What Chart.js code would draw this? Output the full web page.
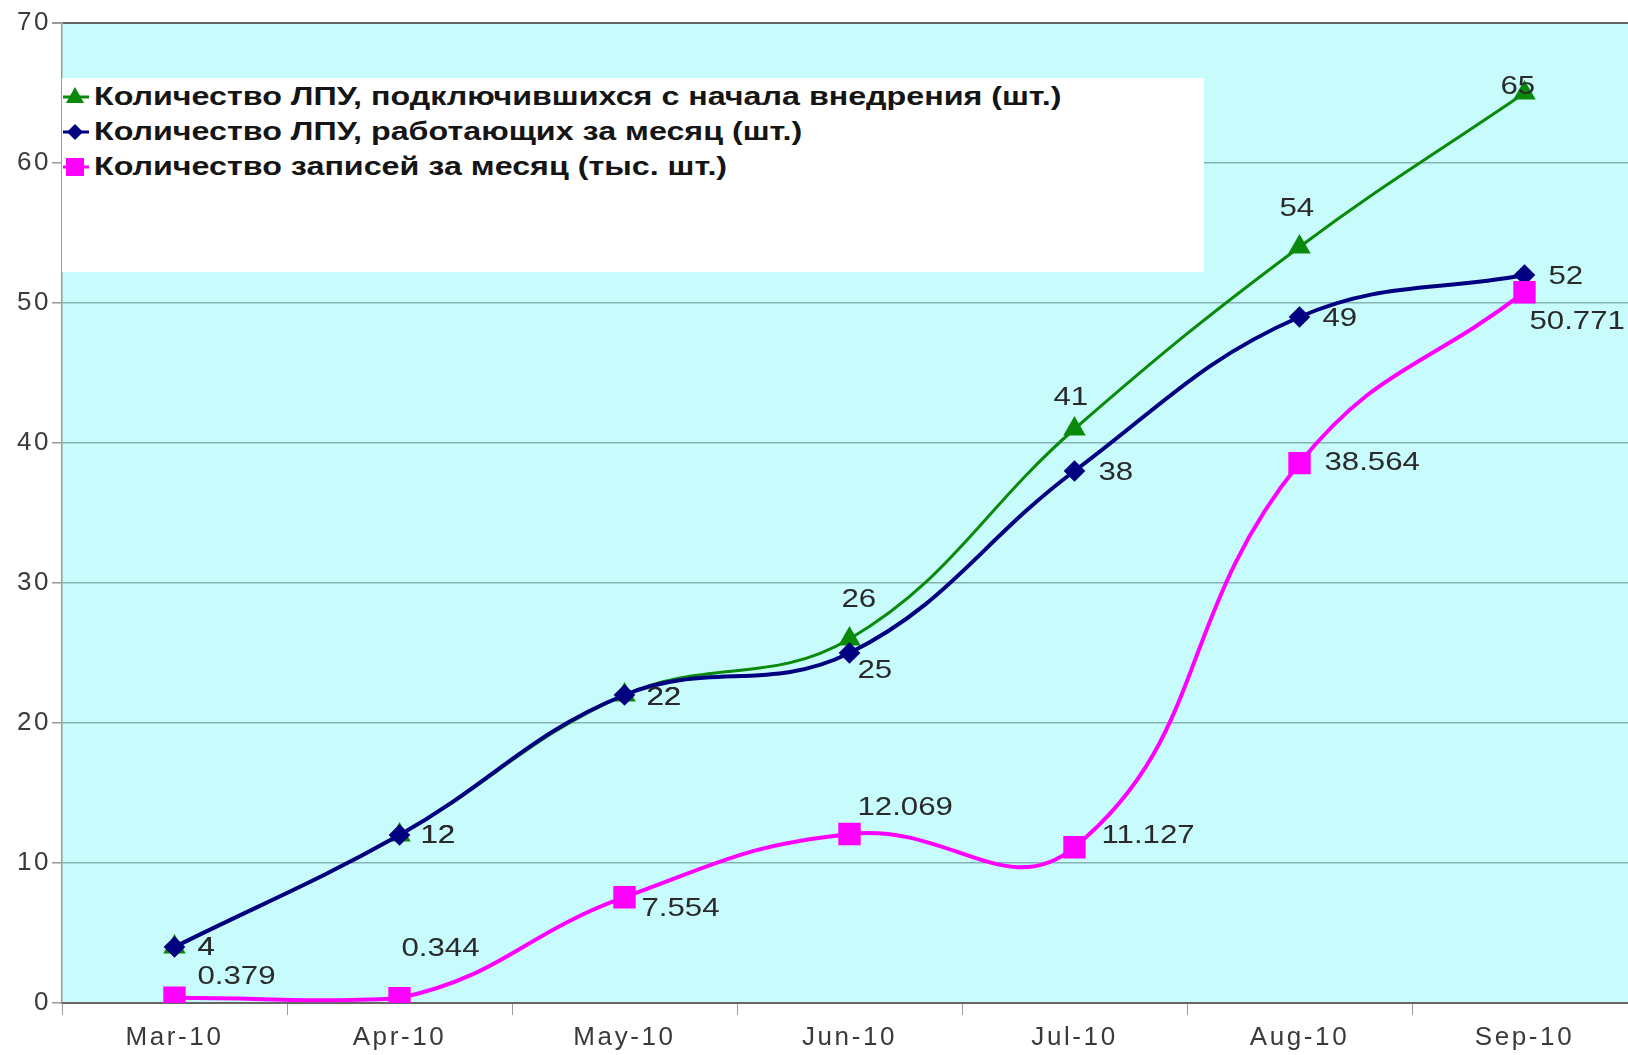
<!DOCTYPE html>
<html>
<head>
<meta charset="utf-8">
<script src="https://cdn.jsdelivr.net/npm/chart.js@4.4.1/dist/chart.umd.min.js"></script>
<style>
body { margin: 0; overflow: hidden; background: #fff; }
#wrap { position: relative; width: 1637px; height: 1055px; }
#legend {
    position: absolute; left: 62px; top: 78px; width: 1142px; height: 194px;
    background: #fff;
    font: bold 26px "Liberation Sans", Arial, sans-serif; color: #151515;
}
.row { position: absolute; left: 0; width: 1100px; height: 35px; line-height: 35px; white-space: nowrap; }
.row svg { position: absolute; left: 0; top: 0; }
.row span { position: absolute; left: 32px; transform: scaleX(1.24); transform-origin: left center; }
</style>
</head>
<body>
<div id="wrap">
    <canvas id="graph" width="1637" height="1055"></canvas>
    <div id="legend">
        <div class="row" style="top:1px">
            <svg width="30" height="35"><line x1="1" y1="18" x2="27" y2="18" stroke="#0a8a0a" stroke-width="3"/><polygon points="13,8 22,24 4,24" fill="#0a8a0a"/></svg>
            <span>Количество ЛПУ, подключившихся с начала внедрения (шт.)</span>
        </div>
        <div class="row" style="top:36px">
            <svg width="30" height="35"><line x1="1" y1="18" x2="27" y2="18" stroke="#000080" stroke-width="3"/><polygon points="13,10 21,18 13,26 5,18" fill="#000080"/></svg>
            <span>Количество ЛПУ, работающих за месяц (шт.)</span>
        </div>
        <div class="row" style="top:71px">
            <svg width="30" height="35"><line x1="1" y1="18" x2="27" y2="18" stroke="#ff00ff" stroke-width="3"/><rect x="4" y="9" width="18" height="18" fill="#ff00ff"/></svg>
            <span>Количество записей за месяц (тыс. шт.)</span>
        </div>
    </div>
</div>
<script>
// categories and values
const months = ['Mar-10', 'Apr-10', 'May-10', 'Jun-10', 'Jul-10', 'Aug-10', 'Sep-10'];
const connectedTotal = [4, 12, 22, 26, 41, 54, 65];
const workingMonth = [4, 12, 22, 25, 38, 49, 52];
const recordsMonth = [0.379, 0.344, 7.554, 12.069, 11.127, 38.564, 50.771];
const yTicks = [0, 10, 20, 30, 40, 50, 60, 70];

// where each value label sits relative to its point (dx, dy of the text's left-middle)
const greenLabelOffsets = [[23, 1], [21, 1], [22, 3], [-8, -39], [-21, -31], [-20, -38], [-24, -6]];
const blueLabelOffsets = [[23, 1], [21, 1], [22, 3], [8, 18], [24, 2], [23, 2], [24, 2]];
const pinkLabelOffsets = [[23, -21], [2, -49], [17, 12], [8, -26], [27, -11], [25, 0], [5, 30]];

const fontFamily = '"Liberation Sans", Arial, sans-serif';

const plotBackground = {
    id: 'plotBackground',
    beforeDraw(chart) {
        const a = chart.chartArea;
        const ctx = chart.ctx;
        ctx.save();
        ctx.fillStyle = '#c8fbfb';
        ctx.fillRect(a.left, a.top, a.right - a.left, a.bottom - a.top);
        ctx.restore();
        // the picture's text is wider than Arial at the same height
        ctx.letterSpacing = '2.6px';
    }
};

const valueLabels = {
    id: 'valueLabels',
    afterDatasetsDraw(chart) {
        const ctx = chart.ctx;
        ctx.save();
        ctx.letterSpacing = '0px';
        ctx.font = '26px ' + fontFamily;
        ctx.fillStyle = '#2a2a2a';
        ctx.textAlign = 'left';
        ctx.textBaseline = 'middle';
        chart.data.datasets.forEach((ds, i) => {
            const meta = chart.getDatasetMeta(i);
            const offsets = ds.labelOffsets;
            meta.data.forEach((pt, j) => {
                ctx.save();
                ctx.translate(pt.x + offsets[j][0], pt.y + offsets[j][1]);
                ctx.scale(1.2, 1);
                ctx.fillText(String(ds.data[j]), 0, 0);
                ctx.restore();
            });
        });
        ctx.restore();
    }
};

const ctx = document.getElementById('graph').getContext('2d');

const chartx = new Chart(ctx, {
    type: 'line',
    data: {
        labels: months,
        datasets: [{
            label: 'Количество ЛПУ, подключившихся с начала внедрения (шт.)',
            data: connectedTotal,
            labelOffsets: greenLabelOffsets,
            borderColor: '#0a8a0a',
            backgroundColor: '#0a8a0a',
            borderWidth: 3,
            pointStyle: 'triangle',
            pointRadius: 10,
            tension: 0.4,
            order: 3,
        }, {
            label: 'Количество ЛПУ, работающих за месяц (шт.)',
            data: workingMonth,
            labelOffsets: blueLabelOffsets,
            borderColor: '#000080',
            backgroundColor: '#000080',
            borderWidth: 4,
            pointStyle: 'rectRot',
            pointRadius: 8,
            tension: 0.4,
            order: 2,
        }, {
            label: 'Количество записей за месяц (тыс. шт.)',
            data: recordsMonth,
            labelOffsets: pinkLabelOffsets,
            borderColor: '#ff00ff',
            backgroundColor: '#ff00ff',
            borderWidth: 4,
            pointStyle: 'rect',
            pointRadius: 13,
            tension: 0.45,
            order: 1,
        }],
    },
    options: {
        responsive: false,
        animation: false,
        layout: { autoPadding: false, padding: { top: 23, left: 0, right: 0, bottom: 0 } },
        plugins: {
            legend: { display: false },
            tooltip: { enabled: false },
        },
        scales: {
            x: {
                offset: true,
                grid: {
                    offset: true,
                    drawOnChartArea: false,
                    tickLength: 12,
                    tickColor: '#9a9a9a',
                },
                border: { color: '#666', width: 2 },
                ticks: {
                    color: '#3a3a3a',
                    padding: 7,
                    font: { family: fontFamily, size: 26 },
                },
                afterFit(scale) { scale.height = 52; },
            },
            y: {
                min: 0,
                max: 70,
                afterBuildTicks(scale) { scale.ticks = yTicks.map(v => ({ value: v })); },
                grid: {
                    color: c => c.tick && c.tick.value === 70 ? '#666' : '#86b4b4',
                    lineWidth: c => c.tick && c.tick.value === 70 ? 2 : 1.5,
                    tickLength: 10,
                    tickColor: '#9a9a9a',
                },
                border: { color: '#999', width: 1.5 },
                ticks: {
                    color: '#3a3a3a',
                    padding: 1,
                    font: { family: fontFamily, size: 26 },
                },
                afterFit(scale) { scale.width = 62; },
            },
        },
    },
    plugins: [plotBackground, valueLabels],
});
</script>
</body>
</html>
